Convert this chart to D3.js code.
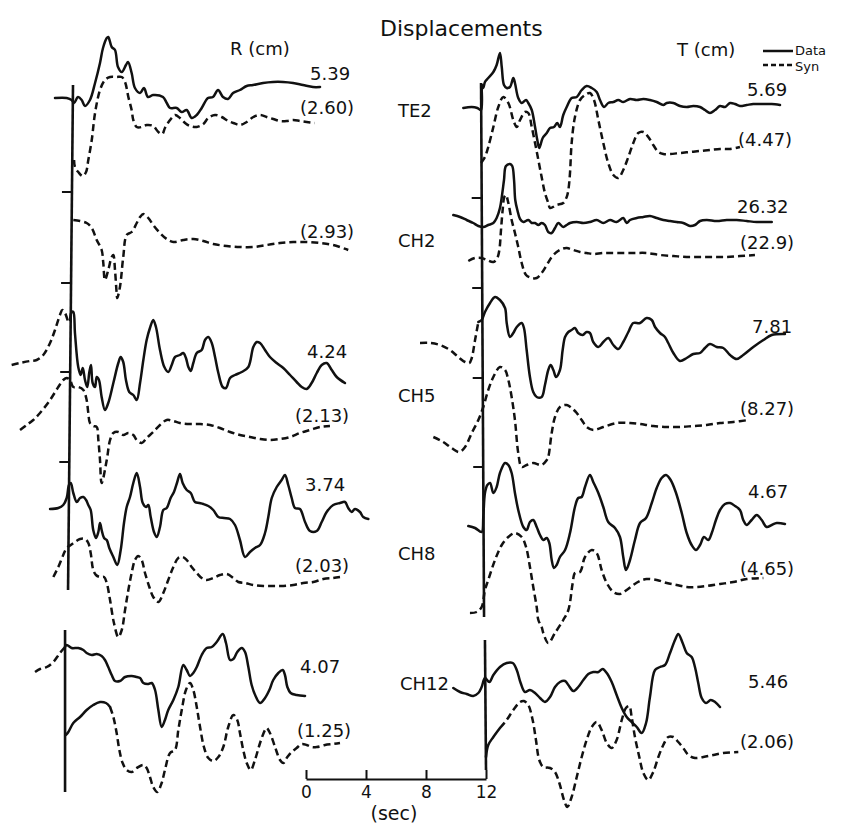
<!DOCTYPE html>
<html>
<head>
<meta charset="utf-8">
<script src="https://cdn.jsdelivr.net/npm/d3@7"></script>
<style>
html, body { margin: 0; padding: 0; background: #fff; }
svg { display: block; }
text { font-family: "DejaVu Sans", "Liberation Sans", sans-serif; fill: #111; }
</style>
</head>
<body>
<svg id="chart" width="843" height="827"></svg>
<script>
// station names and peak amplitudes (cm)
const stations = ["TE2", "CH2", "CH5", "CH8", "CH12"];
const rPeakData = ["5.39", null, "4.24", "3.74", "4.07"];
const rPeakSyn = ["(2.60)", "(2.93)", "(2.13)", "(2.03)", "(1.25)"];
const tPeakData = ["5.69", "26.32", "7.81", "4.67", "5.46"];
const tPeakSyn = ["(4.47)", "(22.9)", "(8.27)", "(4.65)", "(2.06)"];
const timeTicks = [0, 4, 8, 12];

// waveforms: [time (sec), amplitude]
const rTE2Data = [[-1.0,0],[-0.22,0],[0.11,-2],[0.27,-5],[0.53,1],[0.78,-2],[1.0,-8],[1.33,-2],[1.67,15],[2.0,35],[2.2,50],[2.45,60],[2.55,61],[2.78,51],[3.0,48],[3.2,31],[3.45,26],[3.73,33],[3.87,36],[4.11,25],[4.33,10],[4.67,5],[4.93,10],[5.2,1],[5.53,3],[6.2,1],[6.45,-5],[6.67,-10],[7.11,-10],[7.45,-14],[7.78,-12],[8.11,-20],[8.45,-17],[8.78,-10],[9.2,0],[9.53,1],[9.87,8],[10.2,1],[10.53,-1],[10.87,5],[11.33,8],[11.78,12],[12.2,13],[12.87,15],[13.53,16],[14.2,16],[14.87,15],[15.53,13],[16.2,11],[16.67,11]];
const rTE2Syn = [[0.27,-40],[0.33,-47],[0.55,-52],[0.85,-56],[1.07,-52],[1.22,-40],[1.45,-20],[1.67,7],[2.0,30],[2.33,40],[2.67,43],[3.11,43],[3.45,43],[3.67,38],[3.89,23],[4.11,10],[4.22,0],[4.45,-7],[4.78,-7],[5.11,-5],[5.55,-6],[5.89,-12],[6.15,-14],[6.33,-8],[6.67,0],[7.0,5],[7.33,2],[7.67,-3],[8.0,-6],[8.45,-7],[8.89,-4],[9.22,2],[9.67,5],[10.11,3],[10.55,-1],[10.89,-3],[11.33,-5],[11.78,-2],[12.22,3],[12.67,5],[13.11,3],[13.55,1],[14.0,-1],[14.45,-1],[14.89,0],[15.33,-1],[15.78,-2],[16.33,-3]];
const rCH2Syn = [[0.22,0],[0.67,-1],[1.11,-3],[1.45,-8],[1.78,-20],[2.11,-30],[2.22,-43],[2.33,-60],[2.55,-50],[2.78,-37],[2.89,-35],[3.0,-50],[3.11,-73],[3.15,-78],[3.33,-67],[3.55,-37],[3.78,-15],[4.11,-12],[4.45,-3],[4.67,3],[4.89,6],[5.22,2],[5.55,-5],[6.0,-13],[6.45,-19],[6.89,-22],[7.55,-20],[8.22,-19],[8.89,-21],[9.55,-24],[10.45,-26],[11.33,-27],[12.22,-27],[13.11,-25],[14.0,-23],[14.89,-22],[15.78,-22],[16.67,-23],[17.55,-25],[18.55,-30]];
const rCH5Lead = [[-3.89,0],[-3.33,2],[-2.67,4],[-2.22,5],[-1.78,10],[-1.33,22],[-1.0,35],[-0.67,50],[-0.51,55],[-0.33,52],[-0.11,42]];
const rCH5Data = [[0,45],[0.11,53],[0.22,53],[0.33,32],[0.55,-2],[0.71,-10],[0.85,-3],[1.0,-15],[1.15,-22],[1.29,-7],[1.4,0],[1.51,-18],[1.67,-22],[1.78,-12],[1.93,-15],[2.11,-32],[2.33,-45],[2.55,-38],[2.89,-18],[3.22,2],[3.38,8],[3.55,3],[3.73,-15],[3.95,-27],[4.22,-30],[4.45,-35],[4.67,-18],[4.89,5],[5.11,25],[5.33,37],[5.55,45],[5.73,38],[6.0,15],[6.29,-2],[6.55,-7],[6.78,0],[7.0,8],[7.33,10],[7.55,12],[7.73,7],[7.89,-2],[8.05,-6],[8.22,2],[8.45,12],[8.78,15],[9.0,25],[9.22,28],[9.45,22],[9.67,8],[9.89,-8],[10.18,-22],[10.4,-23],[10.67,-13],[11.0,-10],[11.45,-7],[11.89,-2],[12.22,18],[12.45,23],[12.67,22],[13.0,15],[13.33,8],[13.78,2],[14.22,-3],[14.67,-10],[15.11,-17],[15.45,-22],[15.78,-24],[16.11,-18],[16.45,-8],[16.78,0],[17.11,2],[17.45,-5],[17.78,-12],[18.33,-18]];
const rCH5Syn = [[-3.33,-5],[-2.89,0],[-2.45,5],[-2.0,12],[-1.33,25],[-0.78,38],[-0.45,45],[-0.22,47],[0,45],[0.22,38],[0.55,38],[0.89,35],[1.11,25],[1.22,12],[1.33,2],[1.55,-1],[1.78,-2],[1.89,-15],[2.0,-35],[2.11,-58],[2.45,-35],[2.67,-15],[2.89,-8],[3.22,-7],[3.55,-10],[3.89,-8],[4.22,-10],[4.45,-15],[4.78,-18],[5.11,-13],[5.55,-7],[6.0,0],[6.45,5],[6.89,4],[7.33,2],[8.0,1],[8.67,1],[9.33,0],[10.0,-3],[10.67,-7],[11.33,-10],[12.0,-12],[12.67,-14],[13.33,-15],[14.0,-14],[14.67,-12],[15.33,-8],[16.0,-5],[16.67,-2],[17.33,-1]];
const rCH8Data = [[-1.33,0],[-0.78,1],[-0.45,4],[-0.22,11],[-0.07,24],[0.05,26],[0.22,16],[0.45,7],[0.67,11],[0.89,12],[1.07,9],[1.22,4],[1.38,-1],[1.55,-21],[1.73,-29],[1.89,-23],[2.0,-14],[2.11,-21],[2.27,-29],[2.45,-31],[2.62,-39],[2.89,-48],[3.15,-56],[3.38,-41],[3.6,-14],[3.78,2],[4.0,12],[4.22,26],[4.45,36],[4.67,22],[4.85,6],[5.07,2],[5.22,4],[5.38,-8],[5.6,-23],[5.78,-28],[6.0,-18],[6.22,-1],[6.45,1],[6.71,11],[6.93,17],[7.15,27],[7.33,35],[7.51,26],[7.78,19],[8.05,16],[8.33,7],[8.62,6],[8.89,5],[9.22,3],[9.55,-1],[9.89,-8],[10.27,-9],[10.67,-10],[11.0,-16],[11.33,-31],[11.67,-48],[12.0,-43],[12.33,-39],[12.67,-36],[13.0,-24],[13.22,-8],[13.45,11],[13.78,22],[14.11,29],[14.33,34],[14.55,24],[14.78,11],[15.0,1],[15.33,0],[15.67,-13],[16.0,-22],[16.45,-22],[16.78,-13],[17.11,-3],[17.55,4],[18.0,6],[18.33,7],[18.55,1],[18.78,-3],[19.0,0],[19.33,-3],[19.55,-8],[19.89,-10]];
const rCH8Syn = [[-1.11,0],[-0.78,10],[-0.45,22],[-0.22,29],[0.05,32],[0.33,35],[0.67,38],[1.0,38],[1.22,34],[1.38,24],[1.55,7],[1.73,2],[2.0,0],[2.27,0],[2.45,-6],[2.67,-23],[2.93,-46],[3.22,-60],[3.45,-53],[3.67,-33],[3.89,-13],[4.11,4],[4.33,17],[4.55,21],[4.78,17],[5.0,4],[5.29,-10],[5.55,-20],[5.89,-25],[6.22,-16],[6.55,-3],[6.89,10],[7.22,19],[7.51,20],[7.78,17],[8.11,10],[8.45,4],[8.78,-1],[9.11,-3],[9.55,-1],[10.0,2],[10.45,3],[10.89,-1],[11.22,-5],[11.67,-6],[12.22,-8],[12.89,-9],[13.55,-9],[14.22,-9],[14.89,-8],[15.55,-6],[16.22,-5],[16.89,-2],[17.55,-1],[18.0,0]];
const rCH12Lead = [[-2.33,0],[-2.0,3],[-1.55,5],[-1.11,10],[-0.67,19],[-0.33,25]];
const rCH12Data = [[-0.33,25],[-0.22,27],[0.11,24],[0.55,24],[0.89,22],[1.11,19],[1.45,17],[1.78,18],[2.11,16],[2.33,12],[2.55,5],[2.78,-3],[3.0,-9],[3.33,-9],[3.67,-5],[4.11,-4],[4.45,-5],[4.67,-6],[4.89,-11],[5.22,-12],[5.45,-11],[5.67,-18],[5.89,-38],[6.11,-55],[6.33,-48],[6.55,-38],[6.89,-28],[7.22,-15],[7.55,7],[7.78,2],[8.0,-4],[8.22,-1],[8.45,5],[8.78,17],[9.11,24],[9.45,25],[9.78,30],[10.18,38],[10.4,29],[10.67,12],[10.89,13],[11.15,20],[11.45,24],[11.67,20],[11.89,5],[12.11,-13],[12.4,-25],[12.67,-31],[13.0,-26],[13.29,-18],[13.55,-8],[13.89,-1],[14.18,2],[14.33,-3],[14.49,-15],[14.71,-21],[15.11,-23],[15.67,-24]];
const rCH12Syn = [[-0.27,0],[-0.11,3],[0.22,12],[0.67,18],[1.11,25],[1.55,30],[2.0,33],[2.4,32],[2.67,28],[2.89,18],[3.11,2],[3.29,-15],[3.51,-28],[3.78,-35],[4.11,-37],[4.45,-33],[4.89,-30],[5.11,-33],[5.33,-42],[5.55,-52],[5.82,-57],[6.11,-48],[6.33,-35],[6.67,-18],[7.0,-15],[7.22,5],[7.45,25],[7.73,45],[8.0,52],[8.22,45],[8.45,28],[8.67,8],[8.93,-12],[9.22,-23],[9.55,-26],[9.89,-22],[10.22,-12],[10.55,8],[10.89,20],[11.15,15],[11.33,2],[11.55,-15],[11.78,-28],[12.05,-35],[12.33,-25],[12.67,-8],[13.0,5],[13.11,7],[13.33,2],[13.67,-12],[14.0,-25],[14.22,-28],[14.49,-22],[14.78,-17],[15.11,-13],[15.45,-9],[15.78,-10],[16.11,-12],[16.45,-12],[17.0,-10],[17.55,-9],[18.0,-8]];

const tTE2Data = [[-1.31,0],[-0.75,1],[-0.38,0],[-0.13,-2],[-0.07,23],[0.02,20],[0.13,26],[0.35,30],[0.69,36],[0.91,43],[1.13,55],[1.25,41],[1.4,23],[1.58,20],[1.8,21],[2.02,30],[2.13,25],[2.35,10],[2.58,5],[2.87,8],[3.02,5],[3.25,-2],[3.47,-19],[3.62,-32],[3.75,-40],[3.98,-30],[4.25,-25],[4.47,-20],[4.73,-19],[4.95,-15],[5.13,-19],[5.35,-7],[5.58,1],[5.91,10],[6.25,11],[6.58,18],[6.91,22],[7.25,20],[7.58,16],[7.8,8],[8.07,1],[8.35,5],[8.69,6],[9.02,8],[9.35,6],[9.8,9],[10.25,8],[10.69,9],[11.13,8],[11.58,6],[12.02,3],[12.25,5],[12.69,5],[13.13,2],[13.58,1],[14.02,2],[14.47,1],[14.8,-2],[15.13,-5],[15.47,-2],[15.8,2],[16.13,1],[16.47,5],[16.8,4],[17.13,2],[17.58,3],[18.02,4],[18.47,4],[18.91,4],[19.25,4],[19.8,3]];
const tTE2Syn = [[-0.13,-13],[0.13,-7],[0.35,3],[0.69,23],[1.02,43],[1.35,53],[1.69,47],[2.02,30],[2.25,23],[2.47,30],[2.8,38],[3.02,37],[3.25,23],[3.47,7],[3.69,-10],[3.91,-27],[4.13,-43],[4.35,-53],[4.47,-58],[4.91,-55],[5.35,-53],[5.58,-47],[5.69,-40],[5.8,-23],[5.91,7],[6.13,33],[6.47,50],[6.8,55],[7.13,57],[7.4,50],[7.69,30],[8.02,7],[8.35,-13],[8.69,-25],[9.02,-28],[9.35,-20],[9.69,-7],[10.02,7],[10.35,17],[10.69,18],[11.02,13],[11.35,5],[11.69,-2],[12.02,-4],[12.47,-4],[13.13,-3],[13.8,-2],[14.47,-1],[15.13,0],[15.8,1],[16.47,1],[17.13,3]];
const tCH2Data = [[-1.98,5],[-1.53,3],[-1.09,0],[-0.65,-3],[-0.31,-6],[0.02,-7],[0.35,-5],[0.69,-3],[0.91,2],[1.13,12],[1.27,25],[1.4,40],[1.53,54],[1.8,56],[1.95,54],[2.07,40],[2.15,20],[2.29,10],[2.47,1],[2.69,-2],[3.02,0],[3.25,-3],[3.47,-3],[3.69,-5],[3.91,-3],[4.13,-5],[4.35,-12],[4.58,-13],[4.8,-8],[5.02,-3],[5.35,-7],[5.58,-5],[5.8,-3],[6.25,-2],[6.69,-3],[7.13,-2],[7.58,0],[8.02,-3],[8.47,0],[8.91,-2],[9.35,2],[9.58,-3],[9.8,0],[10.25,2],[10.69,3],[11.13,4],[11.58,2],[12.02,0],[12.47,-1],[12.91,-2],[13.35,-3],[13.8,-6],[14.13,-5],[14.47,-1],[14.91,0],[15.58,-1],[16.25,0],[16.91,0],[17.58,-1],[18.25,-2],[19.25,-2]];
const tCH2Syn = [[-0.98,-3],[-0.53,0],[-0.09,0],[0.25,-2],[0.69,-4],[0.95,0],[1.09,8],[1.2,28],[1.31,48],[1.42,61],[1.53,63],[1.69,55],[1.91,38],[2.13,25],[2.35,11],[2.58,-5],[2.87,-17],[3.25,-20],[3.58,-20],[3.91,-15],[4.25,-7],[4.58,1],[4.91,6],[5.25,9],[5.58,10],[6.02,8],[6.47,6],[6.91,5],[7.35,4],[8.02,5],[8.91,5],[10.02,5],[10.91,5],[11.8,3],[12.69,2],[13.58,1],[14.47,1],[15.36,1],[16.25,1],[17.13,2],[18.13,3]];
const tCH5Lead = [[-4.2,2],[-3.53,2],[-2.87,0],[-2.2,-5],[-1.65,-12],[-1.2,-17],[-0.91,-18],[-0.75,-13],[-0.53,5],[-0.31,23]];
const tCH5Data = [[-0.31,23],[-0.09,25],[0.13,33],[0.47,42],[0.8,48],[1.13,45],[1.47,37],[1.58,22],[1.8,8],[2.02,12],[2.25,18],[2.58,22],[2.73,17],[2.91,-5],[3.13,-32],[3.35,-47],[3.58,-52],[3.91,-52],[4.13,-40],[4.35,-25],[4.51,-20],[4.69,-25],[4.87,-32],[5.13,-25],[5.31,-5],[5.47,8],[5.69,13],[5.91,15],[6.13,17],[6.35,12],[6.65,10],[6.91,13],[7.13,12],[7.35,3],[7.69,-2],[8.02,3],[8.35,7],[8.69,0],[9.02,-4],[9.35,3],[9.69,13],[10.02,22],[10.47,22],[10.91,27],[11.25,25],[11.47,18],[11.8,12],[12.13,8],[12.35,2],[12.69,-8],[13.13,-16],[13.58,-13],[14.02,-9],[14.47,-8],[14.8,-3],[15.13,1],[15.58,-2],[16.02,-3],[16.47,-10],[16.91,-14],[17.35,-10],[18.02,-2],[18.69,5],[19.25,10],[20.13,11]];
const tCH5Syn = [[-3.31,-11],[-2.65,-16],[-2.09,-22],[-1.58,-26],[-1.2,-21],[-0.75,-7],[-0.31,6],[0.02,19],[0.35,36],[0.69,49],[1.13,59],[1.47,56],[1.69,46],[1.91,29],[2.13,6],[2.35,-27],[2.58,-41],[2.91,-39],[3.35,-37],[3.91,-39],[4.25,-34],[4.35,-31],[4.58,-7],[4.8,9],[5.13,19],[5.58,21],[5.91,18],[6.25,13],[6.58,6],[6.91,-1],[7.35,-4],[8.02,-1],[8.91,3],[9.8,3],[10.47,2],[11.35,0],[12.25,-1],[13.13,-1],[14.02,0],[14.91,1],[15.8,3],[16.69,4],[17.69,6]];
const tCH8Data = [[-0.98,0],[-0.53,-2],[-0.09,-6],[0.02,9],[0.13,33],[0.29,41],[0.47,43],[0.69,33],[0.91,39],[1.13,53],[1.47,63],[1.69,61],[1.91,53],[2.13,33],[2.35,16],[2.69,-1],[2.91,-4],[3.13,4],[3.35,6],[3.58,-1],[3.8,-9],[4.02,-14],[4.25,-12],[4.42,-17],[4.58,-34],[4.73,-42],[4.91,-39],[5.13,-31],[5.47,-24],[5.8,-7],[6.13,19],[6.35,28],[6.58,29],[6.8,39],[7.13,51],[7.35,44],[7.69,33],[8.02,19],[8.35,4],[8.8,-2],[9.13,-11],[9.35,-31],[9.53,-44],[9.8,-34],[10.13,-14],[10.47,3],[10.87,8],[11.25,23],[11.58,38],[11.91,48],[12.2,51],[12.51,46],[12.87,33],[13.25,13],[13.58,-7],[13.91,-19],[14.2,-24],[14.47,-19],[14.73,-11],[15.02,-14],[15.25,-7],[15.53,6],[15.8,16],[16.13,22],[16.47,23],[16.8,20],[17.13,16],[17.35,6],[17.58,1],[17.91,6],[18.25,11],[18.58,6],[18.91,-1],[19.25,1],[19.58,3],[20.13,2]];
const tCH8Syn = [[-0.87,-1],[-0.42,0],[-0.09,5],[0.13,22],[0.35,32],[0.8,52],[1.25,67],[1.69,75],[2.13,79],[2.58,75],[2.87,65],[3.13,45],[3.35,25],[3.58,5],[3.69,-8],[3.91,-15],[4.02,-21],[4.35,-31],[4.8,-21],[5.35,-8],[5.69,2],[5.98,29],[6.13,39],[6.47,40],[6.8,55],[7.25,62],[7.58,59],[7.91,42],[8.25,29],[8.69,20],[9.13,18],[9.58,22],[10.02,27],[10.47,31],[10.91,33],[11.58,32],[12.25,29],[12.91,27],[13.58,25],[14.25,25],[14.91,26],[15.8,28],[16.69,30],[17.58,33],[18.69,34]];
const tCH12Data = [[-1.98,2],[-1.53,-2],[-1.09,-4],[-0.65,-6],[-0.31,-3],[-0.09,3],[0.13,12],[0.42,8],[0.69,15],[1.13,23],[1.58,27],[1.98,27],[2.25,20],[2.51,7],[2.8,-2],[3.13,0],[3.47,-3],[3.8,-8],[4.13,-12],[4.47,-7],[4.8,3],[5.13,8],[5.47,9],[5.69,5],[6.02,-1],[6.35,3],[6.69,10],[7.02,16],[7.35,18],[7.69,18],[7.98,21],[8.25,17],[8.58,8],[8.91,-5],[9.25,-18],[9.58,-27],[9.91,-32],[10.25,-37],[10.58,-43],[10.87,-33],[11.13,-7],[11.47,20],[11.8,23],[12.13,25],[12.47,37],[12.8,50],[13.02,56],[13.31,47],[13.58,37],[13.91,33],[14.13,23],[14.35,7],[14.58,-8],[14.87,-13],[15.18,-10],[15.47,-12],[15.8,-17]];
const tCH12Syn = [[0.2,0],[0.35,12],[0.69,20],[1.13,29],[1.58,37],[2.02,47],[2.47,55],[2.73,56],[3.02,52],[3.31,37],[3.53,17],[3.75,-3],[4.02,-10],[4.47,-11],[4.8,-15],[5.09,-26],[5.4,-43],[5.62,-50],[5.91,-40],[6.25,-20],[6.58,0],[6.91,17],[7.25,30],[7.58,35],[7.91,27],[8.25,14],[8.58,9],[8.91,17],[9.25,37],[9.53,49],[9.75,51],[9.91,40],[10.13,20],[10.42,0],[10.69,-16],[11.02,-23],[11.35,-15],[11.69,0],[12.02,12],[12.35,20],[12.69,20],[13.02,15],[13.35,9],[13.69,2],[14.13,-1],[14.69,0],[15.36,2],[16.02,4],[17.02,5]];

// layout
const svg = d3.select("#chart");

const xLeft = d3.scaleLinear().domain([0, 12]).range([70, 250]);
const xRight = d3.scaleLinear().domain([0, 12]).range([483, 663]);
const xTime = d3.scaleLinear().domain([0, 12]).range([306, 486]);

const ampScale = base => d3.scaleLinear().domain([-100, 100]).range([base + 100, base - 100]);

// solidUntil: part of a synthetic drawn solid before the dashes start
const traces = [
    { d: rTE2Data, col: "L", base: 98 },
    { d: rTE2Syn, col: "L", base: 120, dash: true },
    { d: rCH2Syn, col: "L", base: 220, dash: true },
    { d: rCH5Lead, col: "L", base: 365, dash: true },
    { d: rCH5Data, col: "L", base: 365 },
    { d: rCH5Syn, col: "L", base: 425, dash: true },
    { d: rCH8Data, col: "L", base: 509 },
    { d: rCH8Syn, col: "L", base: 577, dash: true },
    { d: rCH12Lead, col: "L", base: 672, dash: true },
    { d: rCH12Data, col: "L", base: 672 },
    { d: rCH12Syn, col: "L", base: 735, dash: true, solidUntil: 2.67 },
    { d: tTE2Data, col: "R", base: 108 },
    { d: tTE2Syn, col: "R", base: 150, dash: true },
    { d: tCH2Data, col: "R", base: 220 },
    { d: tCH2Syn, col: "R", base: 258, dash: true },
    { d: tCH5Lead, col: "R", base: 345, dash: true },
    { d: tCH5Data, col: "R", base: 345 },
    { d: tCH5Syn, col: "R", base: 426, dash: true },
    { d: tCH8Data, col: "R", base: 526 },
    { d: tCH8Syn, col: "R", base: 612, dash: true },
    { d: tCH12Data, col: "R", base: 690 },
    { d: tCH12Syn, col: "R", base: 757, dash: true, solidUntil: 1.13 }
];

// reference lines (time = 0) and their small ticks
const refLines = [
    { col: "L", t1: 0.2, t2: -0.13, y1: 85, y2: 590, ticks: [192, 283, 372, 462] },
    { col: "L", t1: -0.33, t2: -0.33, y1: 630, y2: 792, ticks: [] },
    { col: "R", t1: -0.13, t2: 0.07, y1: 83, y2: 617, ticks: [198, 288, 378, 467] },
    { col: "R", t1: 0.13, t2: 0.2, y1: 640, y2: 770, ticks: [] }
];

const ink = "#111";

refLines.forEach(r => {
    const xs = r.col === "L" ? xLeft : xRight;
    svg.append("line")
        .attr("x1", xs(r.t1)).attr("y1", r.y1)
        .attr("x2", xs(r.t2)).attr("y2", r.y2)
        .attr("stroke", ink).attr("stroke-width", 2.6);
    r.ticks.forEach(ty => {
        const f = (ty - r.y1) / (r.y2 - r.y1);
        const xt = xs(r.t1 + (r.t2 - r.t1) * f);
        svg.append("line")
            .attr("x1", xt - 10).attr("x2", xt)
            .attr("y1", ty).attr("y2", ty)
            .attr("stroke", ink).attr("stroke-width", 2);
    });
});

// waveforms
function drawTrace(points, xs, ys, dashed) {
    const line = d3.line()
        .x(d => xs(d[0]))
        .y(d => ys(d[1]))
        .curve(d3.curveCatmullRom.alpha(0.5));
    svg.append("path")
        .datum(points)
        .attr("d", line)
        .attr("fill", "none")
        .attr("stroke", ink)
        .attr("stroke-width", 2.5)
        .attr("stroke-linejoin", "round")
        .attr("stroke-linecap", dashed ? "butt" : "round")
        .attr("stroke-dasharray", dashed ? "7 4" : null);
}

traces.forEach(tr => {
    const xs = tr.col === "L" ? xLeft : xRight;
    const ys = ampScale(tr.base);
    if (tr.solidUntil != null) {
        drawTrace(tr.d.filter(d => d[0] <= tr.solidUntil), xs, ys, false);
        drawTrace(tr.d.filter(d => d[0] >= tr.solidUntil), xs, ys, true);
    } else {
        drawTrace(tr.d, xs, ys, !!tr.dash);
    }
});

// titles
svg.append("text").attr("x", 380).attr("y", 36)
    .attr("font-size", 22).text("Displacements");
svg.append("text").attr("x", 230).attr("y", 55)
    .attr("font-size", 18).text("R (cm)");
svg.append("text").attr("x", 677).attr("y", 56)
    .attr("font-size", 18).text("T (cm)");

// legend
const legend = svg.append("g");
legend.append("line").attr("x1", 763).attr("x2", 793).attr("y1", 51).attr("y2", 51)
    .attr("stroke", ink).attr("stroke-width", 2.5);
legend.append("line").attr("x1", 763).attr("x2", 793).attr("y1", 65).attr("y2", 65)
    .attr("stroke", ink).attr("stroke-width", 2.5).attr("stroke-dasharray", "5 3");
legend.append("text").attr("x", 795).attr("y", 55).attr("font-size", 13).text("Data");
legend.append("text").attr("x", 795).attr("y", 71).attr("font-size", 13).text("Syn");

// station labels
const stationPos = [[398, 117], [398, 247], [398, 402], [398, 560], [400, 690]];
stations.forEach((s, i) => {
    svg.append("text").attr("x", stationPos[i][0]).attr("y", stationPos[i][1])
        .attr("font-size", 18).text(s);
});

// peak amplitude labels
const rDataPos = [[310, 80], null, [307, 358], [305, 491], [300, 673]];
const rSynPos = [[300, 114], [300, 238], [295, 422], [295, 572], [297, 737]];
const tDataPos = [[747, 96], [737, 213], [752, 333], [748, 498], [748, 688]];
const tSynPos = [[738, 146], [740, 249], [740, 415], [740, 575], [740, 748]];

function peakLabels(values, pos) {
    values.forEach((v, i) => {
        if (v == null) return;
        svg.append("text").attr("x", pos[i][0]).attr("y", pos[i][1])
            .attr("font-size", 18).text(v);
    });
}
peakLabels(rPeakData, rDataPos);
peakLabels(rPeakSyn, rSynPos);
peakLabels(tPeakData, tDataPos);
peakLabels(tPeakSyn, tSynPos);

// time scale bar
const timeAxis = d3.axisBottom(xTime)
    .tickValues(timeTicks)
    .tickSize(-9)
    .tickSizeOuter(0)
    .tickPadding(7);

const axisG = svg.append("g")
    .attr("transform", "translate(0,779)")
    .call(timeAxis);
axisG.select(".domain").attr("stroke", ink).attr("stroke-width", 2.2);
axisG.selectAll(".tick line").attr("stroke", ink).attr("stroke-width", 2);
axisG.selectAll(".tick text")
    .attr("font-family", "DejaVu Sans, sans-serif")
    .attr("font-size", 17)
    .attr("fill", ink);

svg.append("text").attr("x", 394).attr("y", 820)
    .attr("text-anchor", "middle")
    .attr("font-size", 19)
    .text("(sec)");
</script>
</body>
</html>
